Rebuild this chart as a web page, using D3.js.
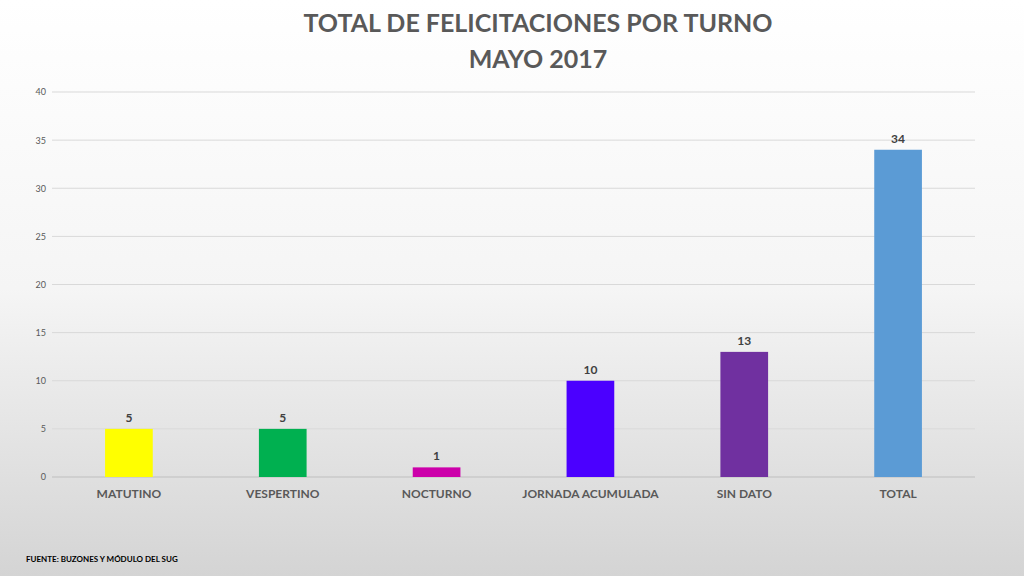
<!DOCTYPE html>
<html><head><meta charset="utf-8">
<script src="https://cdn.jsdelivr.net/npm/d3@7"></script>
<style>body{margin:0;}svg{display:block;}</style>
</head><body>
<svg id="c" width="1024" height="576"></svg>
<script>
const categories = ["MATUTINO","VESPERTINO","NOCTURNO","JORNADA ACUMULADA","SIN DATO","TOTAL"];
const values = [5,5,1,10,13,34];
const colors = ["#FFFF00","#00B050","#CC00AA","#4B00FF","#7030A0","#5B9BD5"];
const ticks = [0,5,10,15,20,25,30,35,40];
const titleLines = ["TOTAL DE FELICITACIONES POR TURNO","MAYO 2017"];
const source = "FUENTE: BUZONES Y MÓDULO DEL SUG";

const svg = d3.select("#c");
const font = "Lato, 'Open Sans', sans-serif";
const defs = svg.append("defs");
const g = defs.append("linearGradient").attr("id","bg").attr("x1",0).attr("y1",0).attr("x2",0).attr("y2",1);
g.append("stop").attr("offset","0").attr("stop-color","#ffffff");
g.append("stop").attr("offset","0.5").attr("stop-color","#f5f5f5");
g.append("stop").attr("offset","1").attr("stop-color","#d4d4d4");
svg.append("rect").attr("width",1024).attr("height",576).attr("fill","url(#bg)");

const x = d3.scaleBand().domain(categories).range([52,975]).paddingInner(0.69).paddingOuter(0.345);
const y = d3.scaleLinear().domain([0,40]).range([477,92]);

svg.append("g").selectAll("line").data(ticks).join("line")
  .attr("x1",52).attr("x2",975).attr("y1",d=>y(d)).attr("y2",d=>y(d))
  .attr("stroke",d=>d===0?"#bfbfbf":"#d9d9d9").attr("stroke-width",1);

const ya = svg.append("g").attr("transform","translate(46,0)")
  .call(d3.axisLeft(y).tickValues(ticks).tickSize(0).tickPadding(0));
ya.select(".domain").remove();
ya.selectAll("text").attr("font-family",font).attr("font-size",9).attr("fill","#595959");

svg.append("g").selectAll("rect").data(values).join("rect")
  .attr("x",(d,i)=>x(categories[i])).attr("width",x.bandwidth())
  .attr("y",d=>y(d)).attr("height",d=>y(0)-y(d)).attr("fill",(d,i)=>colors[i]);

svg.append("g").selectAll("text").data(values).join("text")
  .attr("x",(d,i)=>x(categories[i])+x.bandwidth()/2).attr("y",d=>y(d)-7)
  .attr("text-anchor","middle").attr("font-family",font).attr("font-weight","bold")
  .attr("font-size",12).attr("fill","#404040").text(d=>d);

const xa = svg.append("g").attr("transform","translate(0,477)")
  .call(d3.axisBottom(x).tickSize(0).tickPadding(12));
xa.select(".domain").remove();
xa.selectAll("text").attr("font-family",font).attr("font-weight","bold").attr("font-size",12).attr("fill","#595959");

svg.append("g").selectAll("text").data(titleLines).join("text")
  .attr("x",538).attr("y",(d,i)=>32+i*36).attr("text-anchor","middle")
  .attr("font-family",font).attr("font-weight","bold").attr("font-size",25).attr("fill","#595959").text(d=>d);

svg.append("text").attr("x",26).attr("y",562).attr("font-family",font).attr("font-weight","bold")
  .attr("font-size",8).attr("fill","#000").text(source);
</script>
</body></html>
